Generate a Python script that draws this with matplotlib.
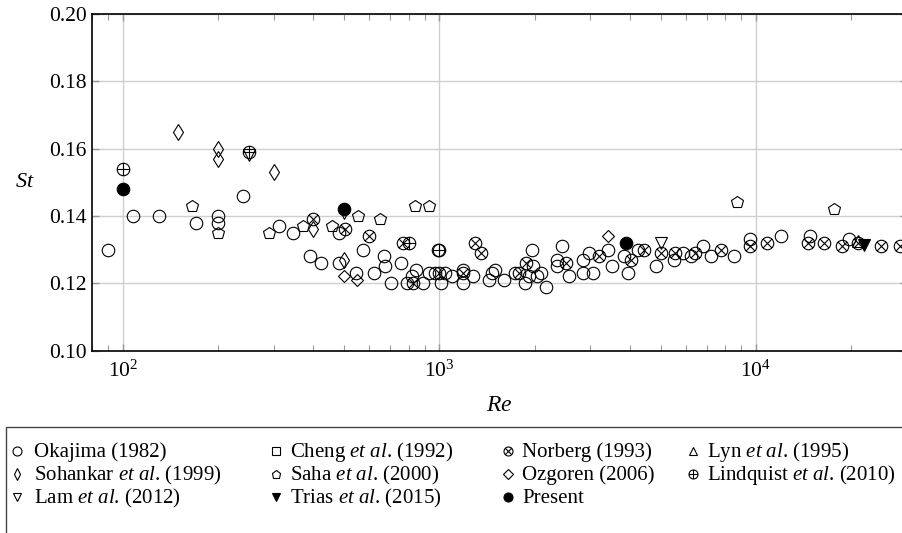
import matplotlib
matplotlib.use("Agg")
import matplotlib.pyplot as plt
import numpy as np
from matplotlib.lines import Line2D
from matplotlib.patches import Rectangle
from matplotlib.path import Path
from matplotlib.ticker import FormatStrFormatter, NullFormatter

plt.rcParams["font.family"] = ["Liberation Serif", "DejaVu Serif"]
plt.rcParams["mathtext.fontset"] = "custom"
plt.rcParams["mathtext.rm"] = "Liberation Serif"
plt.rcParams["mathtext.it"] = "Liberation Serif:italic"

# 数据
okajima_re = [90, 108, 130, 170, 200, 200, 240, 312, 345, 390, 422, 483, 483, 545, 575,
              622, 669, 672, 706, 755, 790, 818, 845, 887, 925, 968, 990, 1013, 1040, 1100,
              1190, 1190, 1275, 1440, 1470, 1497, 1605, 1730, 1860, 1915, 1960, 1970, 2030,
              2095, 2165, 2350, 2350, 2440, 2570, 2850, 2850, 2960, 3066, 3400, 3520, 3840,
              3930, 4250, 4820, 5500, 5880, 6220, 6800, 7200, 8500, 9560, 11970, 14830, 19730]
okajima_st = [0.130, 0.140, 0.140, 0.138, 0.140, 0.138, 0.146, 0.137, 0.135, 0.128, 0.126,
              0.135, 0.126, 0.123, 0.130, 0.123, 0.128, 0.125, 0.120, 0.126, 0.120, 0.122,
              0.124, 0.120, 0.123, 0.123, 0.130, 0.120, 0.123, 0.122, 0.124, 0.120, 0.122,
              0.121, 0.123, 0.124, 0.121, 0.123, 0.120, 0.122, 0.130, 0.125, 0.122, 0.123,
              0.119, 0.127, 0.125, 0.131, 0.122, 0.127, 0.123, 0.129, 0.123, 0.130, 0.125,
              0.128, 0.123, 0.130, 0.125, 0.127, 0.129, 0.128, 0.131, 0.128, 0.128, 0.133,
              0.134, 0.134, 0.133]
cheng_re = []
cheng_st = []
norberg_re = [400, 503, 600, 770, 825, 1000, 1190, 1295, 1355, 1780, 1885, 2510, 3190, 4030,
              4440, 5000, 5570, 6440, 7740, 9560, 10850, 14600, 16460, 18660, 20950, 24810, 28600]
norberg_st = [0.139, 0.136, 0.134, 0.132, 0.120, 0.123, 0.123, 0.132, 0.129, 0.123, 0.126,
              0.126, 0.128, 0.127, 0.130, 0.129, 0.129, 0.129, 0.130, 0.131, 0.132, 0.132,
              0.132, 0.131, 0.132, 0.131, 0.131]
lyn_re = [21000]
lyn_st = [0.1325]
sohankar_re = [150, 200, 200, 300, 400, 500]
sohankar_st = [0.165, 0.160, 0.157, 0.153, 0.136, 0.127]
saha_re = [165, 200, 290, 370, 457, 555, 650, 841, 925, 8700, 17600]
saha_st = [0.143, 0.135, 0.135, 0.137, 0.137, 0.140, 0.139, 0.143, 0.143, 0.144, 0.142]
ozgoren_re = [500, 550, 3400]
ozgoren_st = [0.122, 0.121, 0.134]
lindquist_re = [100, 250, 800, 1000]
lindquist_st = [0.154, 0.159, 0.132, 0.130]
lam_re = [250, 500, 5000]
lam_st = [0.158, 0.141, 0.132]
trias_re = [22000]
trias_st = [0.1315]
present_re = [100, 500, 3900]
present_st = [0.148, 0.142, 0.132]

# 自定义标记: ⊗ 和 ⊕
d = np.sqrt(0.5)
circle = Path.unit_circle()
cross = Path([(-d, -d), (d, d), (-d, d), (d, -d)],
             [Path.MOVETO, Path.LINETO, Path.MOVETO, Path.LINETO])
plus = Path([(-1, 0), (1, 0), (0, -1), (0, 1)],
            [Path.MOVETO, Path.LINETO, Path.MOVETO, Path.LINETO])
otimes = Path.make_compound_path(circle, cross)
oplus = Path.make_compound_path(circle, plus)

ETAL = "$\\mathit{et\\ al}$."

# (名称, x, y, 标记, 大小, 填充, 图例行, 图例列)
series = [
    (f"Lam {ETAL} (2012)", lam_re, lam_st, "v", 8, False, 2, 0),
    ("Okajima (1982)", okajima_re, okajima_st, "o", 9, False, 0, 0),
    (f"Cheng {ETAL} (1992)", cheng_re, cheng_st, "s", 8, False, 0, 1),
    ("Norberg (1993)", norberg_re, norberg_st, otimes, 9, False, 0, 2),
    (f"Sohankar {ETAL} (1999)", sohankar_re, sohankar_st, "d", 8, False, 1, 0),
    (f"Saha {ETAL} (2000)", saha_re, saha_st, "p", 9, False, 1, 1),
    ("Ozgoren (2006)", ozgoren_re, ozgoren_st, "D", 6.5, False, 1, 2),
    (f"Lindquist {ETAL} (2010)", lindquist_re, lindquist_st, oplus, 9, False, 1, 3),
    (f"Lyn {ETAL} (1995)", lyn_re, lyn_st, "^", 8, False, 0, 3),
    (f"Trias {ETAL} (2015)", trias_re, trias_st, "v", 8, True, 2, 1),
    ("Present", present_re, present_st, "o", 9, True, 2, 2),
]

W, H = 903, 533
fig = plt.figure(figsize=(W / 100, H / 100), dpi=100)
ax = fig.add_axes([92 / W, 1 - 350.5 / H, (907 - 92) / W, (350.5 - 14) / H])

for name, xs, ys, mk, ms, filled, _, _ in series:
    ax.plot(xs, ys, linestyle="none", marker=mk, markersize=ms, color="black",
            markerfacecolor="black" if filled else "none", markeredgewidth=0.8)

ax.set_xscale("log")
ax.set_xlim(80, 3e4)
ax.set_ylim(0.10, 0.20)
ax.set_yticks(np.arange(0.10, 0.201, 0.02))
ax.yaxis.set_major_formatter(FormatStrFormatter("%.2f"))
ax.xaxis.set_minor_formatter(NullFormatter())
ax.set_axisbelow(True)
ax.grid(True, which="major", color="#cfcfcf", linewidth=1.0)
ax.tick_params(which="both", direction="in", top=True, right=True, color="#999999",
               labelsize=15.5)
ax.tick_params(which="major", length=5, width=1.0)
ax.tick_params(which="minor", length=4, width=0.8)
ax.tick_params(axis="x", which="major", pad=7)
ax.tick_params(axis="y", which="major", pad=4)
for sp in ax.spines.values():
    sp.set_linewidth(1.2)

ax.set_xlabel("$\\mathit{Re}$", fontsize=17, va="center")
ax.xaxis.set_label_coords(0.5, -0.162)
ax.set_ylabel("$\\mathit{St}$", fontsize=16, rotation=0, va="center", ha="center")
ax.yaxis.set_label_coords(-0.082, 0.5)

# 图例 (手动排列, 保证各行对齐)
col_marker_x = [17, 276, 508, 693]
col_text_x = [34, 290, 522, 707]
row_base_y = [457, 480, 503]
for name, xs, ys, mk, ms, filled, row, col in series:
    yb = row_base_y[row]
    fig.add_artist(Line2D([col_marker_x[col] / W], [1 - (yb - 6) / H], transform=fig.transFigure,
                          linestyle="none", marker=mk, markersize=ms * 0.72, color="black",
                          markerfacecolor="black" if filled else "none", markeredgewidth=0.8))
    fig.text(col_text_x[col] / W, 1 - yb / H, name, fontsize=15, ha="left", va="baseline")
fig.add_artist(Rectangle((6 / W, -0.05), 1.0, 1 - 427 / H + 0.05, transform=fig.transFigure,
                         fill=False, edgecolor="#444444", linewidth=1.0))

fig.savefig("out.png", dpi=100)
